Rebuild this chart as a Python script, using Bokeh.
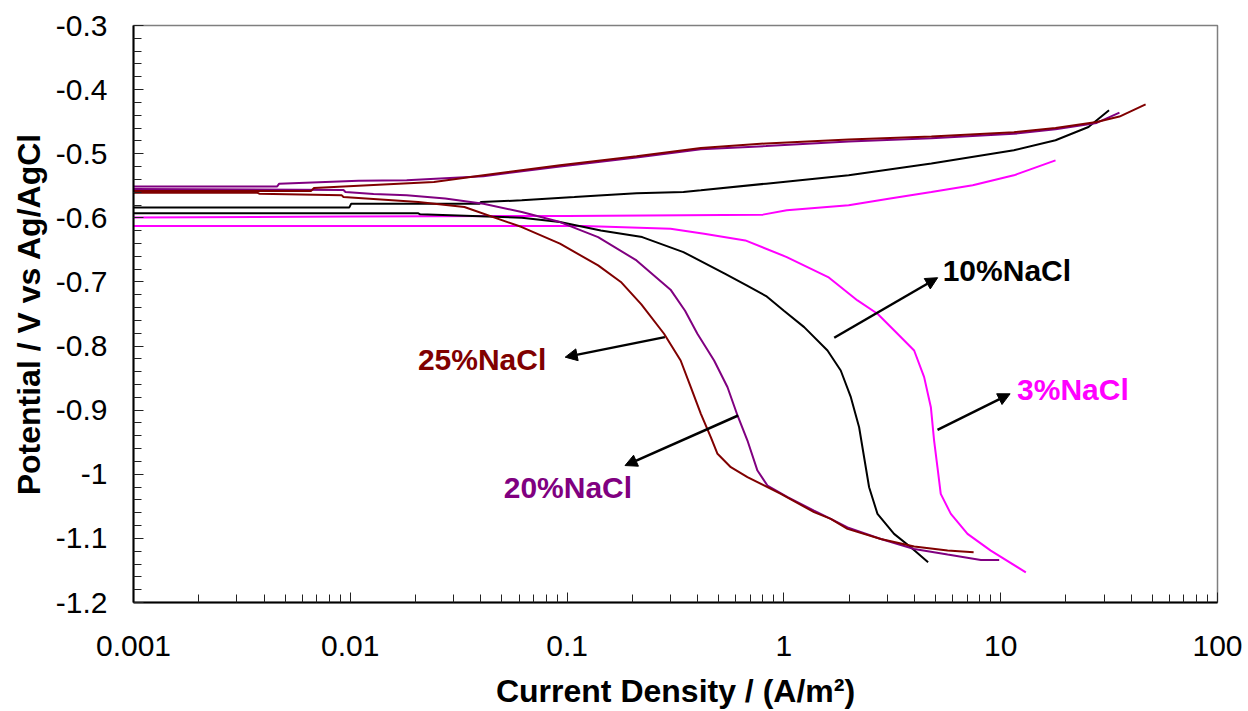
import numpy as np
from bokeh.plotting import figure
from bokeh.models import (Range1d, FixedTicker, CustomJSTickFormatter, Arrow,
                          NormalHead, ColumnDataSource)
from bokeh.core.properties import value
from bokeh.embed import file_html
from bokeh.resources import INLINE

# ---------------- data (current density A/m^2, potential V vs Ag/AgCl) -------------
# 3% NaCl
i_3_cat = [0.001, 0.12, 0.30, 0.4285, 0.6637, 1.031, 1.60, 2.185, 2.702, 3.342, 3.988,
           4.435, 4.763, 4.93, 5.108, 5.29, 5.89, 7.03, 9.0, 13.06]
e_3_cat = [-0.6128, -0.6128, -0.617, -0.6247, -0.6352, -0.6612, -0.6924, -0.7288, -0.7496,
           -0.7808, -0.8069, -0.8485, -0.8954, -0.9474, -0.989, -1.0306, -1.0618, -1.093,
           -1.119, -1.153]
i_3_an = [0.001, 0.01, 0.1, 0.8, 1.031, 1.99, 3.09, 4.79, 7.43, 11.5, 17.9]
e_3_an = [-0.5995, -0.598, -0.597, -0.595, -0.5883, -0.5805, -0.570, -0.5597, -0.5493,
          -0.5337, -0.5103]

# 10% NaCl
i_10_cat = [0.001, 0.0206, 0.021, 0.0618, 0.0927, 0.143, 0.222, 0.344, 0.5336, 0.67,
            0.828, 1.0, 1.24, 1.589, 1.829, 2.036, 2.223, 2.344, 2.472, 2.702, 3.222, 3.848,
            4.626]
e_10_cat = [-0.593, -0.593, -0.5946, -0.5998, -0.6066, -0.6196, -0.630, -0.6534, -0.6872,
            -0.705, -0.722, -0.745, -0.7705, -0.8069, -0.8381, -0.8798, -0.9266, -0.9734,
            -1.0202, -1.0618, -1.093, -1.1139, -1.1373]
i_10_an = [0.001, 0.0099, 0.0101, 0.0395, 0.040, 0.0618, 0.108, 0.14, 0.209, 0.344, 0.414,
           0.828, 1.99, 4.79, 11.5, 17.9, 25.4, 31.6]
e_10_an = [-0.5837, -0.5837, -0.5779, -0.5779, -0.5754, -0.5727, -0.5676, -0.565, -0.5615,
           -0.5597, -0.557, -0.5467, -0.5337, -0.5154, -0.4947, -0.479, -0.4583, -0.4322]

# 20% NaCl
i_20_cat = [0.001, 0.0093, 0.0095, 0.0128, 0.0182, 0.0274, 0.0411, 0.0618, 0.0927, 0.139,
            0.209, 0.30, 0.35, 0.399, 0.4765, 0.5495, 0.611, 0.679, 0.755, 0.8395, 1.04,
            1.377, 1.645, 1.965, 2.80, 3.99, 5.69, 8.10, 9.84]
e_20_cat = [-0.555, -0.5565, -0.5597, -0.563, -0.5649, -0.570, -0.5779, -0.591, -0.6066,
            -0.630, -0.6664, -0.712, -0.745, -0.7808, -0.8225, -0.8642, -0.9083, -0.9474,
            -0.9942, -1.0176, -1.0358, -1.0567, -1.0696, -1.083, -1.101, -1.1165, -1.1253,
            -1.1336, -1.1336]
i_20_an = [0.001, 0.0046, 0.0047, 0.0109, 0.0182, 0.0411, 0.0927, 0.209, 0.414, 0.828,
           1.99, 4.79, 11.5, 17.9, 27.7, 35.3]
e_20_an = [-0.551, -0.551, -0.5467, -0.5423, -0.5415, -0.535, -0.520, -0.506, -0.493,
           -0.488, -0.481, -0.476, -0.469, -0.462, -0.452, -0.436]

# 25% NaCl
i_25_cat = [0.001, 0.00374, 0.0038, 0.00914, 0.0093, 0.0206, 0.0336, 0.0618, 0.0927, 0.139,
            0.177, 0.22, 0.28, 0.334, 0.372, 0.414, 0.460, 0.494, 0.569, 0.679, 0.968,
            1.377, 1.645, 1.965, 2.80, 3.99, 5.69, 7.50]
e_25_cat = [-0.561, -0.561, -0.5623, -0.5649, -0.5675, -0.5754, -0.5832, -0.6144, -0.6403,
            -0.6742, -0.700, -0.735, -0.7808, -0.8225, -0.8642, -0.9057, -0.9422, -0.9681,
            -0.989, -1.0046, -1.0306, -1.059, -1.0696, -1.0852, -1.101, -1.1128, -1.119,
            -1.1217]
i_25_an = [0.001, 0.0066, 0.0068, 0.0115, 0.0243, 0.0411, 0.0927, 0.209, 0.414, 0.828,
           1.99, 4.79, 11.5, 17.9, 27.7, 35.3, 46.6]
e_25_an = [-0.558, -0.558, -0.5535, -0.5495, -0.5441, -0.5337, -0.518, -0.504, -0.491,
           -0.484, -0.478, -0.473, -0.4665, -0.460, -0.4505, -0.442, -0.4229]

# annotations
label_text = ["10%NaCl", "3%NaCl", "25%NaCl", "20%NaCl"]
label_x = [5.4, 11.9, 0.0205, 0.051]
label_y = [-0.6828, -0.867, -0.8202, -1.0205]
label_color = ["#000000", "#FF00FF", "#800000", "#800080"]
arrow_x0 = [1.706, 5.11, 0.2825, 0.615]
arrow_y0 = [-0.787, -0.9307, -0.7861, -0.9083]
arrow_x1 = [5.12, 11.05, 0.098, 0.185]
arrow_y1 = [-0.6934, -0.8745, -0.8173, -0.9864]

# axes
x_ticks = [0.001, 0.01, 0.1, 1, 10, 100]
x_tick_labels = ["0.001", "0.01", "0.1", "1", "10", "100"]
y_ticks = [-1.2, -1.1, -1.0, -0.9, -0.8, -0.7, -0.6, -0.5, -0.4, -0.3]
y_tick_labels = ["-1.2", "-1.1", "-1", "-0.9", "-0.8", "-0.7", "-0.6", "-0.5", "-0.4", "-0.3"]

FONT = "Liberation Sans"

p = figure(width=1248, height=711, x_axis_type="log",
           x_range=Range1d(0.001, 100), y_range=Range1d(-1.2, -0.3),
           output_backend="svg", toolbar_location=None,
           min_border_left=133, min_border_right=31, min_border_top=25,
           min_border_bottom=109)
p.background_fill_color = "white"
p.border_fill_color = "white"
p.outline_line_color = "#7f7f7f"
p.outline_line_width = 1.5
p.grid.visible = False

series = [
    (i_3_cat, e_3_cat, "#FF00FF"), (i_3_an, e_3_an, "#FF00FF"),
    (i_10_cat, e_10_cat, "#000000"), (i_10_an, e_10_an, "#000000"),
    (i_20_cat, e_20_cat, "#800080"), (i_20_an, e_20_an, "#800080"),
    (i_25_cat, e_25_cat, "#800000"), (i_25_an, e_25_an, "#800000"),
]
for xs, ys, c in series:
    p.line(xs, ys, line_color=c, line_width=2)

asrc = ColumnDataSource(dict(x0=arrow_x0, y0=arrow_y0, x1=arrow_x1, y1=arrow_y1))
p.add_layout(Arrow(source=asrc, x_start="x0", y_start="y0", x_end="x1", y_end="y1",
                   line_color="black", line_width=2.5,
                   end=NormalHead(size=12, fill_color="black", line_color="black",
                                  line_width=1)))

lsrc = ColumnDataSource(dict(x=label_x, y=label_y, t=label_text, c=label_color))
p.text(x="x", y="y", text="t", text_color="c", source=lsrc,
       text_font=value(FONT), text_font_style="bold", text_font_size="30px",
       text_align="left", text_baseline="alphabetic")

# x axis
minor_x = [k * 10.0 ** d for d in range(-3, 2) for k in range(2, 10)]
p.xaxis.ticker = FixedTicker(ticks=x_ticks, minor_ticks=minor_x)
p.xaxis.formatter = CustomJSTickFormatter(args=dict(tvals=x_ticks, tlabels=x_tick_labels), code="""
let best = 0, bd = Infinity;
for (let i = 0; i < tvals.length; i++) {
  const d = Math.abs(Math.log10(tvals[i]) - Math.log10(tick));
  if (d < bd) { bd = d; best = i; }
}
return tlabels[best];
""")
minor_y = [v for v in np.round(np.arange(-1.2, -0.29, 0.02), 2) if v not in y_ticks]
p.yaxis.ticker = FixedTicker(ticks=y_ticks, minor_ticks=minor_y)
p.yaxis.formatter = CustomJSTickFormatter(args=dict(tvals=y_ticks, tlabels=y_tick_labels), code="""
let best = 0, bd = Infinity;
for (let i = 0; i < tvals.length; i++) {
  const d = Math.abs(tvals[i] - tick);
  if (d < bd) { bd = d; best = i; }
}
return tlabels[best];
""")

for ax in (p.xaxis, p.yaxis):
    ax.axis_line_color = "black"
    ax.axis_line_width = 2
    ax.major_tick_in = 10
    ax.major_tick_out = 0
    ax.minor_tick_in = 8
    ax.minor_tick_out = 0
    ax.major_tick_line_color = "#222222"
    ax.minor_tick_line_color = "#222222"
    ax.major_tick_line_width = 1
    ax.minor_tick_line_width = 1
    ax.major_label_text_font = FONT
    ax.major_label_text_font_size = "30px"
    ax.major_label_text_color = "black"
    ax.axis_label_text_font = FONT
    ax.axis_label_text_font_size = "32px"
    ax.axis_label_text_font_style = "bold"
    ax.axis_label_text_color = "black"

p.xaxis.axis_label = "Current Density / (A/m²)"
p.yaxis.axis_label = "Potential / V vs Ag/AgCl"
p.xaxis.major_label_standoff = 33
p.yaxis.major_label_standoff = 26
p.xaxis.axis_label_standoff = 14
p.yaxis.axis_label_standoff = 6

open("out.html", "w").write(file_html(p, INLINE))
